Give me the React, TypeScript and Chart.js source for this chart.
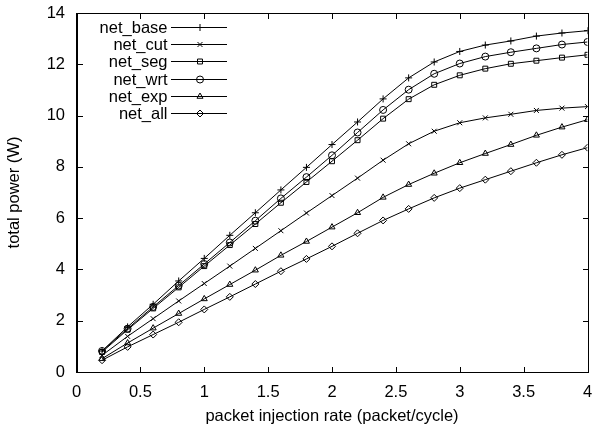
import React, { useEffect, useRef, useState } from "react";
import { Chart, registerables } from "chart.js";

Chart.register(...registerables);

const xValues = [0.2, 0.4, 0.6, 0.8, 1.0, 1.2, 1.4, 1.6, 1.8, 2.0, 2.2, 2.4, 2.6, 2.8, 3.0, 3.2, 3.4, 3.6, 3.8, 4.0];
const netBase = [0.82, 1.76, 2.64, 3.55, 4.43, 5.33, 6.21, 7.1, 7.98, 8.87, 9.75, 10.65, 11.47, 12.09, 12.5, 12.75, 12.91, 13.1, 13.22, 13.31];
const netCut = [0.65, 1.39, 2.08, 2.77, 3.45, 4.13, 4.82, 5.51, 6.2, 6.88, 7.56, 8.26, 8.9, 9.39, 9.72, 9.91, 10.05, 10.2, 10.29, 10.35];
const netSeg = [0.78, 1.65, 2.48, 3.3, 4.13, 4.95, 5.77, 6.6, 7.41, 8.22, 9.04, 9.88, 10.64, 11.2, 11.57, 11.83, 12.02, 12.14, 12.26, 12.37];
const netWrt = [0.82, 1.69, 2.54, 3.37, 4.21, 5.05, 5.9, 6.77, 7.6, 8.45, 9.34, 10.22, 11.01, 11.63, 12.03, 12.3, 12.47, 12.62, 12.77, 12.87];
const netExp = [0.52, 1.13, 1.71, 2.28, 2.85, 3.41, 3.97, 4.55, 5.09, 5.65, 6.21, 6.81, 7.31, 7.75, 8.16, 8.52, 8.87, 9.23, 9.55, 9.84];
const netAll = [0.46, 0.98, 1.46, 1.94, 2.44, 2.93, 3.43, 3.93, 4.41, 4.9, 5.41, 5.91, 6.36, 6.79, 7.17, 7.5, 7.83, 8.16, 8.47, 8.75];

const seriesNames = ["net_base", "net_cut", "net_seg", "net_wrt", "net_exp", "net_all"];
const seriesValues = [netBase, netCut, netSeg, netWrt, netExp, netAll];
const seriesMarkers = ["cross", "crossRot", "rect", "circle", "triangle", "rectRot"];

const xTickValues = [0, 0.5, 1, 1.5, 2, 2.5, 3, 3.5, 4];
const yTickValues = [0, 2, 4, 6, 8, 10, 12, 14];

const xTitle = "packet injection rate (packet/cycle)";
const yTitle = "total power (W)";

const FONT = "'Liberation Sans', Arial, Helvetica, sans-serif";
const FSIZE = 16.5;
const RADIUS = 3.5;

type Box = { L: number; R: number; T: number; B: number };

function marker(ctx: CanvasRenderingContext2D, style: string, x: number, y: number, r: number) {
  ctx.beginPath();
  if (style === "cross") {
    ctx.moveTo(x - r, y); ctx.lineTo(x + r, y);
    ctx.moveTo(x, y - r); ctx.lineTo(x, y + r);
  } else if (style === "crossRot") {
    const d = r * Math.SQRT1_2;
    ctx.moveTo(x - d, y - d); ctx.lineTo(x + d, y + d);
    ctx.moveTo(x - d, y + d); ctx.lineTo(x + d, y - d);
  } else if (style === "rect") {
    const d = r * Math.SQRT1_2;
    ctx.rect(x - d, y - d, 2 * d, 2 * d);
  } else if (style === "circle") {
    ctx.arc(x, y, r, 0, Math.PI * 2);
  } else if (style === "triangle") {
    ctx.moveTo(x, y - r);
    ctx.lineTo(x + r * 0.866, y + r * 0.5);
    ctx.lineTo(x - r * 0.866, y + r * 0.5);
    ctx.closePath();
  } else {
    ctx.moveTo(x, y - r); ctx.lineTo(x + r, y); ctx.lineTo(x, y + r); ctx.lineTo(x - r, y);
    ctx.closePath();
  }
  ctx.stroke();
}

function drawFrameAndTicks(ctx: CanvasRenderingContext2D, chart: any) {
  const a = chart.chartArea;
  const L = Math.round(a.left);
  const R = Math.round(a.right);
  const T = Math.round(a.top);
  const B = Math.round(a.bottom);
  ctx.save();
  ctx.strokeStyle = "#000";
  ctx.lineWidth = 1;
  ctx.strokeRect(L + 0.5, T + 0.5, R - L, B - T);
  const tl = 5;
  const xs = chart.scales.x;
  const ys = chart.scales.y;
  ctx.beginPath();
  xTickValues.forEach((v) => {
    const px = Math.round(xs.getPixelForValue(v)) + 0.5;
    ctx.moveTo(px, B);
    ctx.lineTo(px, B - tl);
    ctx.moveTo(px, T + 1);
    ctx.lineTo(px, T + 1 + tl);
  });
  yTickValues.forEach((v) => {
    const py = Math.round(ys.getPixelForValue(v)) + 0.5;
    ctx.moveTo(L + 1, py);
    ctx.lineTo(L + 1 + tl, py);
    ctx.moveTo(R, py);
    ctx.lineTo(R - tl, py);
  });
  ctx.stroke();
  ctx.restore();
}

export default function App() {
  const canvasRef = useRef<HTMLCanvasElement | null>(null);
  const [box, setBox] = useState<Box | null>(null);

  useEffect(() => {
    if (!canvasRef.current) return;

    const framePlugin = {
      id: "gnuFrame",
      afterDraw(chart: any) {
        const ctx = chart.ctx;
        drawFrameAndTicks(ctx, chart);
        const textRight = 167.5;
        const lineL = 171;
        const lineR = 227;
        const markX = 200;
        const y0 = 27;
        const dy = 17.2;
        ctx.save();
        ctx.strokeStyle = "#000";
        ctx.lineWidth = 1;
        ctx.font = `${FSIZE}px ${FONT}`;
        ctx.textAlign = "right";
        ctx.textBaseline = "middle";
        chart.data.datasets.forEach((ds: any, i: number) => {
          const y = Math.round(y0 + i * dy) + 0.5;
          ctx.fillStyle = "#000";
          ctx.fillText(ds.label, textRight, y + 0.5);
          ctx.beginPath();
          ctx.moveTo(lineL, y);
          ctx.lineTo(lineR, y);
          ctx.stroke();
          marker(ctx, seriesMarkers[i], markX, y, RADIUS);
        });
        ctx.restore();
      },
    };

    const datasets = seriesNames.map((name, i) => ({
      label: name,
      data: xValues.map((x, j) => ({ x, y: seriesValues[i][j] })),
      borderColor: "#000",
      borderWidth: 1,
      pointStyle: seriesMarkers[i],
      pointRadius: RADIUS,
      pointBorderWidth: 1,
      pointBorderColor: "#000",
      pointBackgroundColor: "rgba(255,255,255,0)",
      fill: false,
      tension: 0,
    }));

    const chart = new Chart(canvasRef.current, {
      type: "line",
      data: { datasets },
      options: {
        animation: false,
        responsive: false,
        layout: { padding: { top: 13, right: 7.5 } },
        plugins: {
          legend: { display: false },
          tooltip: { enabled: false },
        },
        scales: {
          x: {
            type: "linear",
            min: 0,
            max: 4,
            afterBuildTicks: (s: any) => {
              s.ticks = xTickValues.map((v) => ({ value: v }));
            },
            afterFit: (s: any) => {
              s.height = 60;
              s.paddingLeft = 0;
              s.paddingRight = 0;
            },
            grid: { display: false, drawTicks: false },
            border: { display: true, color: "#000" },
            ticks: {
              color: "#000",
              font: { family: FONT, size: FSIZE },
              padding: 11,
              maxRotation: 0,
              autoSkip: false,
              callback: (v: any) => String(v),
            },
            title: {
              display: true,
              text: xTitle,
              color: "#000",
              font: { family: FONT, size: FSIZE },
              padding: { top: 0, bottom: 5.5 },
            },
          },
          y: {
            min: 0,
            max: 14,
            afterBuildTicks: (s: any) => {
              s.ticks = yTickValues.map((v) => ({ value: v }));
            },
            afterFit: (s: any) => {
              s.width = 76.5;
              s.paddingTop = 0;
              s.paddingBottom = 0;
            },
            grid: { display: false, drawTicks: false },
            border: { display: true, color: "#000" },
            ticks: {
              color: "#000",
              font: { family: FONT, size: FSIZE },
              padding: 11.5,
              autoSkip: false,
              callback: (v: any) => String(v),
            },
            title: {
              display: true,
              text: yTitle,
              color: "#000",
              font: { family: FONT, size: FSIZE },
              padding: { top: 5, bottom: 0 },
            },
          },
        },
      },
      plugins: [framePlugin],
    });
    const a = chart.chartArea;
    setBox({ L: Math.round(a.left), R: Math.round(a.right), T: Math.round(a.top), B: Math.round(a.bottom) });
    return () => chart.destroy();
  }, []);

  return (
    <div style={{ position: "fixed", left: 0, top: 0, width: 595, height: 432, background: "#fff" }}>
      <canvas ref={canvasRef} width={595} height={432} style={{ position: "absolute", left: 0, top: 0, width: 595, height: 432 }} />
      {box && (
        <div
          style={{
            position: "absolute",
            left: box.L,
            top: box.T,
            width: box.R - box.L + 1,
            height: box.B - box.T + 1,
            border: "1px solid #000",
            boxSizing: "border-box",
            pointerEvents: "none",
          }}
        />
      )}
    </div>
  );
}
